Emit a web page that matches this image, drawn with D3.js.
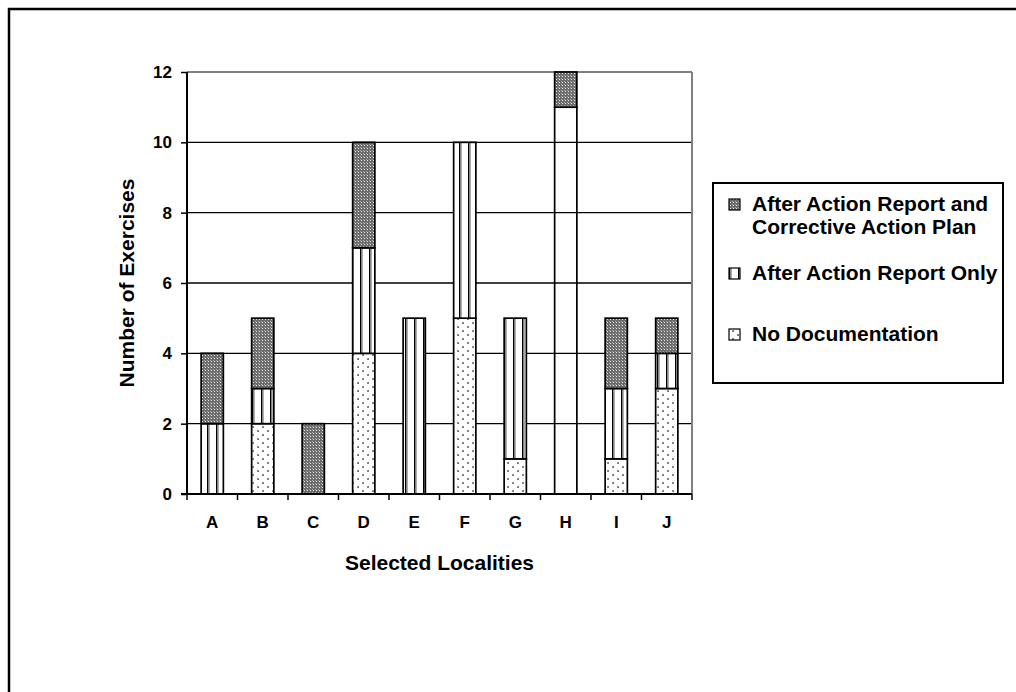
<!DOCTYPE html>
<html>
<head>
<meta charset="utf-8">
<script src="https://cdn.jsdelivr.net/npm/d3@7"></script>
<style>
  body { margin: 0; background: #fff; }
  text { font-family: Arial, "Liberation Sans", sans-serif; font-weight: bold; fill: #000; }
</style>
</head>
<body>
<svg id="chart" width="1016" height="692"></svg>
<script>
// data
const localities = ["A", "B", "C", "D", "E", "F", "G", "H", "I", "J"];
const noDocumentation = [0, 2, 0, 4, 0, 5, 1, 11, 1, 3];
const aarOnly = [2, 1, 0, 3, 5, 5, 4, 0, 2, 1];
const aarAndCap = [2, 2, 2, 3, 0, 0, 0, 1, 2, 1];
const yTicks = [0, 2, 4, 6, 8, 10, 12];
// H's lower segment is drawn without its pattern in the original
const unpatterned = ["H"];

const seriesNames = ["No Documentation", "After Action Report Only", "After Action Report and Corrective Action Plan"];
const seriesKeys = ["noDoc", "aar", "cap"];

const svg = d3.select("#chart");
const margin = { left: 187, right: 324, top: 72, bottom: 198 };
const width = 1016, height = 692;

// outer frame, runs past the right and bottom edges
svg.append("rect")
  .attr("x", 9).attr("y", 9)
  .attr("width", 1016).attr("height", 700)
  .attr("fill", "none").attr("stroke", "#000").attr("stroke-width", 2.5);

// patterns
const defs = svg.append("defs");
const checker = defs.append("pattern").attr("id", "pat-cap")
  .attr("patternUnits", "userSpaceOnUse").attr("width", 3).attr("height", 3);
checker.append("rect").attr("width", 3).attr("height", 3).attr("fill", "#6a6a6a");
checker.append("rect").attr("x", 1).attr("y", 1).attr("width", 1).attr("height", 1).attr("fill", "#e8e8e8");
checker.append("rect").attr("x", 0).attr("y", 0).attr("width", 1).attr("height", 1).attr("fill", "#a8a8a8");

const stripes = defs.append("pattern").attr("id", "pat-aar")
  .attr("patternUnits", "userSpaceOnUse").attr("width", 9).attr("height", 4);
stripes.append("rect").attr("width", 9).attr("height", 4).attr("fill", "#fff");
stripes.append("rect").attr("x", 0).attr("width", 1.4).attr("height", 4).attr("fill", "#000");
stripes.append("rect").attr("x", 1.4).attr("width", 1.2).attr("height", 4).attr("fill", "#777");

const dots = defs.append("pattern").attr("id", "pat-noDoc")
  .attr("patternUnits", "userSpaceOnUse").attr("width", 10).attr("height", 16);
dots.append("rect").attr("width", 10).attr("height", 16).attr("fill", "#fff");
[[3, 3], [3, 11], [8, 7], [8, 15]].forEach(([cx, cy]) => {
  dots.append("rect").attr("x", cx - 0.8).attr("y", cy - 0.8)
    .attr("width", 1.7).attr("height", 1.7).attr("fill", "#555");
});

const x = d3.scaleBand()
  .domain(localities)
  .range([margin.left, width - margin.right])
  .paddingInner(0.56).paddingOuter(0.28);

const y = d3.scaleLinear()
  .domain([0, 12])
  .range([height - margin.bottom, margin.top]);

const plot = svg.append("g");

// grid lines
plot.selectAll("line.grid")
  .data(yTicks.filter(d => d > 0))
  .enter().append("line")
  .attr("class", "grid")
  .attr("x1", margin.left).attr("x2", width - margin.right)
  .attr("y1", d => y(d)).attr("y2", d => y(d))
  .attr("stroke", d => d === 12 ? "#808080" : "#000")
  .attr("stroke-width", d => d === 12 ? 2 : 1.3);

// right edge of plot area
plot.append("line")
  .attr("x1", width - margin.right).attr("x2", width - margin.right)
  .attr("y1", y(12)).attr("y2", y(0))
  .attr("stroke", "#808080").attr("stroke-width", 2);

// stacked bars
const rows = localities.map((name, i) => ({
  name, noDoc: noDocumentation[i], aar: aarOnly[i], cap: aarAndCap[i]
}));
const stacked = d3.stack().keys(seriesKeys)(rows);

stacked.forEach(layer => {
  plot.selectAll(null)
    .data(layer.filter(d => d[1] > d[0]))
    .enter().append("rect")
    .attr("x", d => x(d.data.name))
    .attr("width", x.bandwidth())
    .attr("y", d => y(d[1]))
    .attr("height", d => y(d[0]) - y(d[1]))
    .attr("fill", d => (layer.key === "noDoc" && unpatterned.includes(d.data.name)) ? "none" : "url(#pat-" + layer.key + ")")
    .attr("stroke", "#000")
    .attr("stroke-width", 1.7);
});

// y axis
const yAxis = svg.append("g")
  .attr("transform", "translate(" + margin.left + ",0)")
  .call(d3.axisLeft(y).tickValues(yTicks).tickSize(6).tickPadding(9).tickFormat(d3.format("d")));
yAxis.select(".domain").attr("stroke-width", 2).attr("d", "M0," + y(12) + "V" + y(0));
yAxis.selectAll(".tick line").attr("stroke-width", 1.5);
yAxis.selectAll("text").style("font-size", "17px").style("font-family", "Arial, 'Liberation Sans', sans-serif").style("font-weight", "bold");

// x axis with ticks between categories
const xAxis = svg.append("g").attr("transform", "translate(0," + y(0) + ")");
xAxis.append("line")
  .attr("x1", margin.left - 6).attr("x2", width - margin.right)
  .attr("stroke", "#000").attr("stroke-width", 2);
const step = x.step();
xAxis.selectAll("line.sep")
  .data(d3.range(localities.length + 1))
  .enter().append("line")
  .attr("x1", i => margin.left + i * step).attr("x2", i => margin.left + i * step)
  .attr("y1", 0).attr("y2", 6)
  .attr("stroke", "#000").attr("stroke-width", 1.5);
xAxis.selectAll("text")
  .data(localities)
  .enter().append("text")
  .attr("x", d => x(d) + x.bandwidth() / 2)
  .attr("y", 34)
  .attr("text-anchor", "middle")
  .style("font-size", "17px")
  .text(d => d);

// axis titles
svg.append("text")
  .attr("x", (margin.left + width - margin.right) / 2)
  .attr("y", 570)
  .attr("text-anchor", "middle")
  .style("font-size", "21px")
  .text("Selected Localities");

svg.append("text")
  .attr("transform", "translate(134," + (y(6)) + ") rotate(-90)")
  .attr("text-anchor", "middle")
  .style("font-size", "21px")
  .text("Number of Exercises");

// legend
const legend = svg.append("g");
legend.append("rect")
  .attr("x", 713).attr("y", 183)
  .attr("width", 290).attr("height", 200)
  .attr("fill", "#fff").attr("stroke", "#000").attr("stroke-width", 2);

const legendItems = [
  { key: "cap", lines: ["After Action Report and", "Corrective Action Plan"], y: 211 },
  { key: "aar", lines: [seriesNames[1]], y: 280 },
  { key: "noDoc", lines: [seriesNames[0]], y: 341 }
];
legendItems.forEach(item => {
  legend.append("rect")
    .attr("x", 729).attr("y", item.y - 12)
    .attr("width", 11).attr("height", 11)
    .attr("fill", "url(#pat-" + item.key + ")")
    .attr("stroke", "#000").attr("stroke-width", 1.2);
  item.lines.forEach((line, j) => {
    legend.append("text")
      .attr("x", 752).attr("y", item.y + j * 23)
      .style("font-size", "21px")
      .text(line);
  });
});
</script>
</body>
</html>
